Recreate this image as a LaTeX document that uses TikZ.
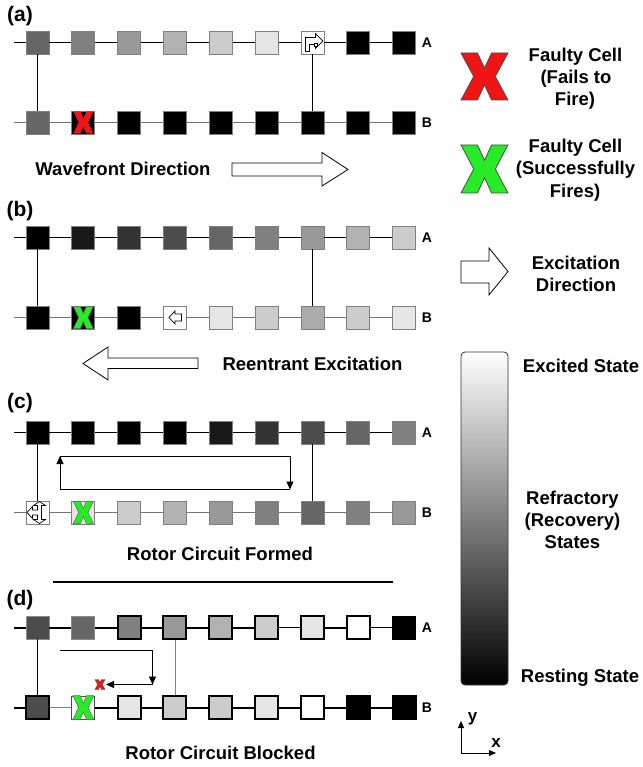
\documentclass[tikz,border=0pt]{standalone}
\usepackage{fontspec}
\setmainfont{Liberation Sans}
\usetikzlibrary{arrows.meta,calc}
\definecolor{xred}{RGB}{240,20,20}
\definecolor{xgreen}{RGB}{40,235,40}
\tikzset{
 cell/.style={rectangle, minimum size=23pt, inner sep=0pt, draw=black!50, line width=0.8pt},
 lab/.style={font=\bfseries\fontsize{18.5}{22}\selectfont, inner sep=0pt},
 rowlab/.style={font=\bfseries\fontsize{14}{16}\selectfont, inner sep=0pt},
 plab/.style={font=\bfseries\fontsize{21}{24}\selectfont, inner sep=0pt},
 lineA/.style={line width=0.9pt, black},
 lineB/.style={line width=0.9pt, black!55},
 conn/.style={line width=0.9pt, black},
 blockarrow/.style={draw=black, fill=white, line width=0.8pt, line join=miter},
 icon/.style={draw=black, fill=white, line width=0.7pt, line join=miter},
 flow/.style={line width=0.9pt, -{Triangle[length=8pt,width=7pt]}},
 axis/.style={line width=0.9pt, -{Triangle[length=7pt,width=6pt]}},
}
\newcommand\XMark[5]{%
 \begin{scope}[shift={(#1)}, xscale=#2, yscale=#3]
 \path[#4] (-1,-1) -- (-0.3,-1) -- (0,-0.36) -- (0.3,-1) -- (1,-1) -- (0.46,0) -- (1,1) -- (0.3,1) -- (0,0.36) -- (-0.3,1) -- (-1,1) -- (-0.46,0) -- cycle;
 \end{scope}#5}
\begin{document}
\begin{tikzpicture}[x=1pt,y=-1pt]
\useasboundingbox (0,0) rectangle (642,767);
\fill[white] (0,0) rectangle (642,767);

% ---------------- panel (a)
\node[plab] (pa) at (20,16) {(a)};
\foreach \g [count=\i] in {60,50,40,30,20,10,0,100,100}
  \node[cell, fill=black!\g] (aA\i) at ({37.5+45.83*(\i-1)},42.5) {};
\foreach \g [count=\i] in {60,100,100,100,100,100,100,100,100}
  \node[cell, fill=black!\g] (aB\i) at ({37.5+45.83*(\i-1)},122.5) {};
\coordinate (aAs) at (14,42.5);
\coordinate (aBs) at (14,122.5);
\draw[lineA] (aAs) -- (aA1);
\draw[lineB] (aBs) -- (aB1);
\foreach \i [count=\j from 2] in {1,...,8} {
  \draw[lineA] (aA\i) -- (aA\j);
  \draw[lineB] (aB\i) -- (aB\j);
}
\draw[conn] (aA1) -- (aB1);
\draw[conn] (aA7) -- (aB7);
\node[rowlab] (aLA) at (427,43) {A};
\node[rowlab] (aLB) at (427,123) {B};
\XMark{aB2.center}{10}{11}{fill=xred}{}
\begin{scope}[shift={(aA7.center)}]
 \draw[icon] (-7,9) -- (-7,-5) -- (3,-5) -- (3,-9) -- (10.5,-1.5) -- (3,6) -- (3,2) -- (-3,2) -- (-3,9) -- cycle;
 \draw[icon] (1.5,0.5) rectangle (4.5,3.5);
\end{scope}
\node[lab, anchor=base] (aT) at (123,175.5) {Wavefront Direction};
\draw[blockarrow] (232,163) -- (322,163) -- (322,152.5) -- (348,169.5) -- (322,186) -- (322,176) -- (232,176) -- cycle;

% ---------------- panel (b)
\node[plab] (pb) at (20,211) {(b)};
\foreach \g [count=\i] in {100,90,80,70,60,50,40,30,20}
  \node[cell, fill=black!\g] (bA\i) at ({37.5+45.83*(\i-1)},237.5) {};
\foreach \g [count=\i] in {100,100,100,0,10,20,33,20,10}
  \node[cell, fill=black!\g] (bB\i) at ({37.5+45.83*(\i-1)},317.5) {};
\coordinate (bAs) at (14,237.5);
\coordinate (bBs) at (14,317.5);
\draw[lineA] (bAs) -- (bA1);
\draw[lineB] (bBs) -- (bB1);
\foreach \i [count=\j from 2] in {1,...,8} {
  \draw[lineA] (bA\i) -- (bA\j);
  \draw[lineB] (bB\i) -- (bB\j);
}
\draw[conn] (bA1) -- (bB1);
\draw[conn] (bA7) -- (bB7);
\node[rowlab] (bLA) at (427,238) {A};
\node[rowlab] (bLB) at (427,318) {B};
\XMark{bB2.center}{10}{11}{fill=xgreen, draw=black!60, line width=0.5pt}{}
\begin{scope}[shift={(bB4.center)}]
 \draw[icon] (-6,0) -- (0,-6.5) -- (0,-3.5) -- (6.5,-3.5) -- (6.5,3.5) -- (0,3.5) -- (0,6.5) -- cycle;
\end{scope}
\draw[blockarrow] (198,358) -- (108,358) -- (108,347) -- (83,363.5) -- (108,380) -- (108,368.5) -- (198,368.5) -- cycle;
\node[lab, anchor=base] (bT) at (312.5,370.5) {Reentrant Excitation};

% ---------------- panel (c)
\node[plab] (pc) at (20,403) {(c)};
\foreach \g [count=\i] in {100,100,100,100,90,80,70,60,50}
  \node[cell, fill=black!\g] (cA\i) at ({37.5+45.83*(\i-1)},432.5) {};
\foreach \g [count=\i] in {0,10,20,30,40,50,60,50,40}
  \node[cell, fill=black!\g] (cB\i) at ({37.5+45.83*(\i-1)},512.5) {};
\coordinate (cAs) at (14,432.5);
\coordinate (cBs) at (14,512.5);
\draw[lineA] (cAs) -- (cA1);
\draw[lineB] (cBs) -- (cB1);
\foreach \i [count=\j from 2] in {1,...,8} {
  \draw[lineA] (cA\i) -- (cA\j);
  \draw[lineB] (cB\i) -- (cB\j);
}
\draw[conn] (cA1) -- (cB1);
\draw[conn] (cA7) -- (cB7);
\node[rowlab] (cLA) at (427,433) {A};
\node[rowlab] (cLB) at (427,513) {B};
\XMark{cB2.center}{10}{11}{fill=xgreen, draw=black!60, line width=0.5pt}{}
\begin{scope}[shift={(cB1.center)}]
 \draw[icon] (2,-11) -- (8,-7) -- (4,-7) -- (4,7) -- (8,7) -- (2,11) -- (-4,7) -- (0,7) -- (0,2.5) -- (-5,2.5) -- (-5,6) -- (-10.5,0) -- (-5,-6) -- (-5,-2.5) -- (0,-2.5) -- (0,-7) -- (-4,-7) -- cycle;
\end{scope}
\coordinate (lpTL) at (60,456);
\coordinate (lpTR) at (290,456);
\coordinate (lpBR) at (290,489.5);
\coordinate (lpBL) at (60,489.5);
\draw[flow] (lpBR) -- (lpBL) -- (lpTL);
\draw[flow] (lpTL) -- (lpTR) -- (lpBR);
\node[lab, anchor=base] (cT) at (220,560) {Rotor Circuit Formed};

% separator
\coordinate (sepL) at (53,582);
\coordinate (sepR) at (393,582);
\draw[line width=1.6pt] (sepL) -- (sepR);

% ---------------- panel (d)
\node[plab] (pd) at (20,600) {(d)};
\foreach \g/\d/\w [count=\i] in {70/black!45/0.8pt,60/black!45/0.8pt,50/black/2pt,40/black/2pt,30/black/2pt,20/black/2pt,10/black/2pt,0/black/2pt,100/black/0.8pt}
  \node[cell, fill=black!\g, draw=\d, line width=\w] (dA\i) at ({37.5+45.83*(\i-1)},627.5) {};
\foreach \g/\d/\w [count=\i] in {70/black/2pt,0/black!70/0.8pt,10/black/2pt,20/black/2pt,20/black/2pt,10/black/2pt,0/black/2pt,100/black/2pt,100/black/2pt}
  \node[cell, fill=black!\g, draw=\d, line width=\w] (dB\i) at ({37.5+45.83*(\i-1)},707.5) {};
\coordinate (dAs) at (14,627.5);
\coordinate (dBs) at (14,707.5);
\draw[line width=2pt] (dAs) -- (dA1);
\draw[line width=2pt] (dBs) -- (dB1);
\foreach \w [count=\i] in {2pt,2pt,2pt,2pt,2pt,0.9pt,2pt,0.9pt} {
  \pgfmathtruncatemacro\nx{\i+1}
  \draw[line width=\w] (dA\i) -- (dA\nx);
}
\foreach \w/\c [count=\i] in {0.9pt/black!50,2pt/black,2pt/black,2pt/black,2pt/black,2pt/black,2pt/black,2pt/black} {
  \pgfmathtruncatemacro\nx{\i+1}
  \draw[line width=\w, draw=\c] (dB\i) -- (dB\nx);
}
\draw[conn] (dA1) -- (dB1);
\draw[conn, black!50] (dA4) -- (dB4);
\node[rowlab] (dLA) at (427,628) {A};
\node[rowlab] (dLB) at (427,708) {B};
\XMark{dB2.center}{10.5}{12}{fill=xgreen, draw=black!60, line width=0.5pt}{}
\coordinate (bk1) at (60,650);
\coordinate (bk2) at (152.5,650);
\coordinate (bk3) at (152.5,684.5);
\coordinate (bk4) at (106,684.5);
\draw[flow] (bk1) -- (bk2) -- (bk3);
\draw[flow] (bk3) -- (bk4);
\XMark{100,684.5}{5}{5}{fill=xred, draw=black!70, line width=0.4pt}{}
\node[lab, anchor=base] (dT) at (220.5,759.5) {Rotor Circuit Blocked};

% ---------------- legend
\XMark{484.5,76.5}{23.5}{23.5}{fill=xred, draw=black!70, line width=0.8pt}{}
\node[lab, anchor=base] (l1a) at (575.5,62) {Faulty Cell};
\node[lab, anchor=base] (l1b) at (576,84) {(Fails to};
\node[lab, anchor=base] (l1c) at (575,106) {Fire)};
\XMark{484.5,169}{23.5}{24}{fill=xgreen, draw=black!70, line width=0.8pt}{}
\node[lab, anchor=base] (l2a) at (575.5,153) {Faulty Cell};
\node[lab, anchor=base] (l2b) at (575.5,175) {(Successfully};
\node[lab, anchor=base] (l2c) at (575,197) {Fires)};
\draw[blockarrow] (461,261) -- (489,261) -- (489,248) -- (508,271.5) -- (489,295) -- (489,283) -- (461,283) -- cycle;
\node[lab, anchor=base] (l3a) at (576,269) {Excitation};
\node[lab, anchor=base] (l3b) at (576,291) {Direction};
\shade[top color=white, bottom color=black, rounded corners=4pt] (461,352) rectangle (508,685);
\draw[black!80, line width=0.8pt, rounded corners=4pt] (461,352) rectangle (508,685);
\node[lab, anchor=base] (l4a) at (581,372) {Excited State};
\node[lab, anchor=base] (l4b) at (572.5,504) {Refractory};
\node[lab, anchor=base] (l4c) at (572.5,526) {(Recovery)};
\node[lab, anchor=base] (l4d) at (572.5,548) {States};
\node[lab, anchor=base] (l4e) at (580,682) {Resting State};

% axes
\coordinate (ax0) at (461,753);
\coordinate (axY) at (461,721);
\coordinate (axX) at (496,753);
\draw[axis] (ax0) -- (axY);
\draw[axis] (ax0) -- (axX);
\node[lab, font=\bfseries\fontsize{17}{20}\selectfont] (ly) at (472.5,719) {y};
\node[lab, font=\bfseries\fontsize{17}{20}\selectfont] (lx) at (496,743) {x};
\end{tikzpicture}
\end{document}
